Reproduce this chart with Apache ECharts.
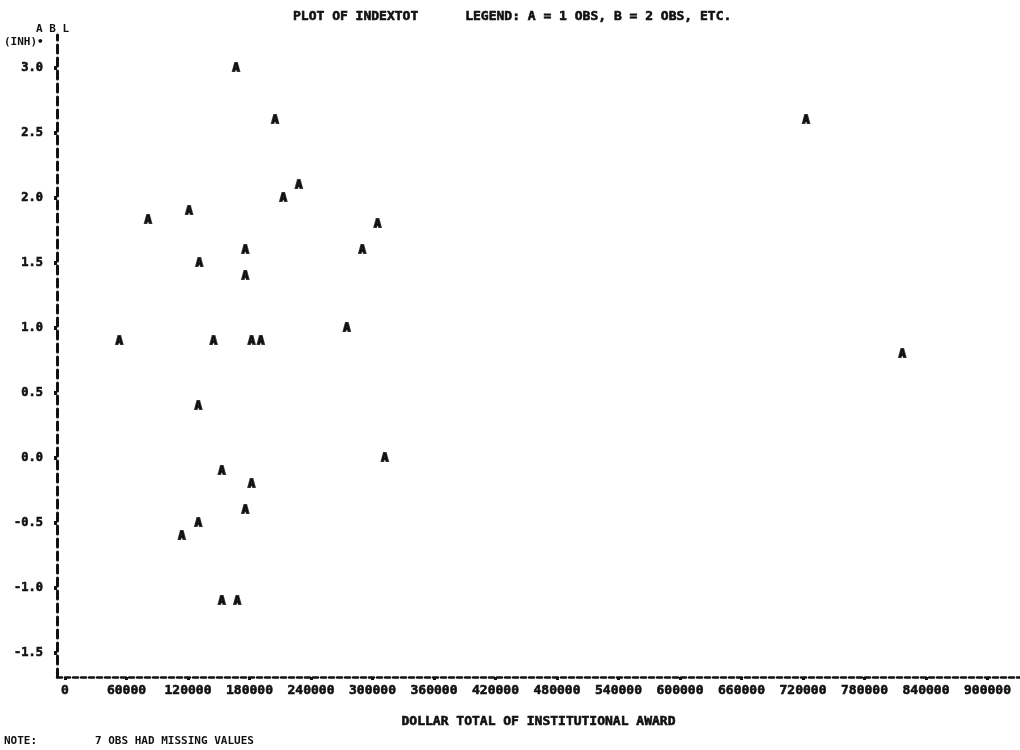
<!DOCTYPE html>
<html>
<head>
<meta charset="utf-8">
<script src="https://cdn.jsdelivr.net/npm/echarts@6/dist/echarts.min.js"></script>
<style>
  html, body { margin: 0; padding: 0; background: #fff; }
  #chart { width: 1020px; height: 750px; }
</style>
</head>
<body>
<div id="chart"></div>
<script>
// Dollar total of institutional award (x) against the index total (y), one "A" per observation
const awardDollars = [
  167000, 205000, 228000, 213000, 121000, 81000, 305000, 176000, 290000,
  131000, 176000, 275000, 53000, 145000, 182000, 191000, 130000, 312000,
  153000, 182000, 176000, 130000, 114000, 153000, 168000, 723000, 817000
];
const indexTotal = [
  3.0, 2.6, 2.1, 2.0, 1.9, 1.83, 1.8, 1.6, 1.6,
  1.5, 1.4, 1.0, 0.9, 0.9, 0.9, 0.9, 0.4, 0.0,
  -0.1, -0.2, -0.4, -0.5, -0.6, -1.1, -1.1, 2.6, 0.8
];

// Tick positions printed along the axes
const xTicks = [0, 60000, 120000, 180000, 240000, 300000, 360000, 420000,
  480000, 540000, 600000, 660000, 720000, 780000, 840000, 900000];
const yTicks = [-1.5, -1.0, -0.5, 0.0, 0.5, 1.0, 1.5, 2.0, 2.5, 3.0];

const titleText = 'PLOT OF INDEXTOT      LEGEND: A = 1 OBS, B = 2 OBS, ETC.';
const xTitle = 'DOLLAR TOTAL OF INSTITUTIONAL AWARD';
const noteText = 'NOTE:';
const missingText = '7 OBS HAD MISSING VALUES';

const mono = '"DejaVu Sans Mono", "Liberation Mono", monospace';
const ink = '#111';

const chart = echarts.init(document.getElementById('chart'), null, { renderer: 'canvas' });

chart.setOption({
  backgroundColor: '#fff',
  animation: false,
  title: {
    text: titleText,
    left: 288,
    top: 5,
    textStyle: { fontFamily: mono, fontWeight: 'bold', fontSize: 13, color: ink,
      textBorderColor: ink, textBorderWidth: 0.6 }
  },
  grid: { left: 57, right: 0, top: 35, bottom: 73 },
  xAxis: {
    type: 'value',
    min: -7800,
    max: 931700,
    name: xTitle,
    nameLocation: 'middle',
    nameGap: 38,
    nameTextStyle: { fontFamily: mono, fontWeight: 'bold', fontSize: 13, color: ink,
      textBorderColor: ink, textBorderWidth: 0.6 },
    axisLine: { show: true, onZero: false, lineStyle: { color: ink, width: 2.5, type: [5, 3] } },
    axisTick: { show: true, customValues: xTicks, length: 3, lineStyle: { color: ink, width: 3 } },
    axisLabel: {
      customValues: xTicks,
      margin: 7,
      formatter: v => String(v),
      fontFamily: mono, fontWeight: 'bold', fontSize: 13, color: ink,
      textBorderColor: ink, textBorderWidth: 0.6
    },
    splitLine: { show: false }
  },
  yAxis: {
    type: 'value',
    min: -1.685,
    max: 3.254,
    axisLine: { show: true, onZero: false, lineStyle: { color: ink, width: 3, type: [8, 5] } },
    axisTick: { show: true, customValues: yTicks, length: 3, lineStyle: { color: ink, width: 4 } },
    axisLabel: {
      customValues: yTicks,
      margin: 14,
      formatter: v => v.toFixed(1),
      fontFamily: mono, fontWeight: 'bold', fontSize: 12, color: ink,
      textBorderColor: ink, textBorderWidth: 0.6
    },
    splitLine: { show: false }
  },
  graphic: [
    { type: 'text', left: 36, top: 24, style: { text: 'A B L', font: 'bold 11px ' + mono, fill: ink } },
    { type: 'text', left: 4, top: 37, style: { text: '(INH)•', font: 'bold 11px ' + mono, fill: ink } },
    { type: 'text', left: 4, top: 736, style: { text: noteText, font: 'bold 11px ' + mono, fill: ink } },
    { type: 'text', left: 95, top: 736, style: { text: missingText, font: 'bold 11px ' + mono, fill: ink } }
  ],
  series: [{
    type: 'scatter',
    data: awardDollars.map((x, i) => [x, indexTotal[i]]),
    symbolSize: 0.1,
    itemStyle: { color: 'rgba(0,0,0,0)' },
    label: {
      show: true,
      position: 'inside',
      formatter: 'A',
      fontFamily: mono,
      fontWeight: 'bold',
      fontSize: 11,
      color: '#000',
      textBorderColor: '#000',
      textBorderWidth: 2
    },
    emphasis: { disabled: true }
  }]
});
</script>
</body>
</html>
